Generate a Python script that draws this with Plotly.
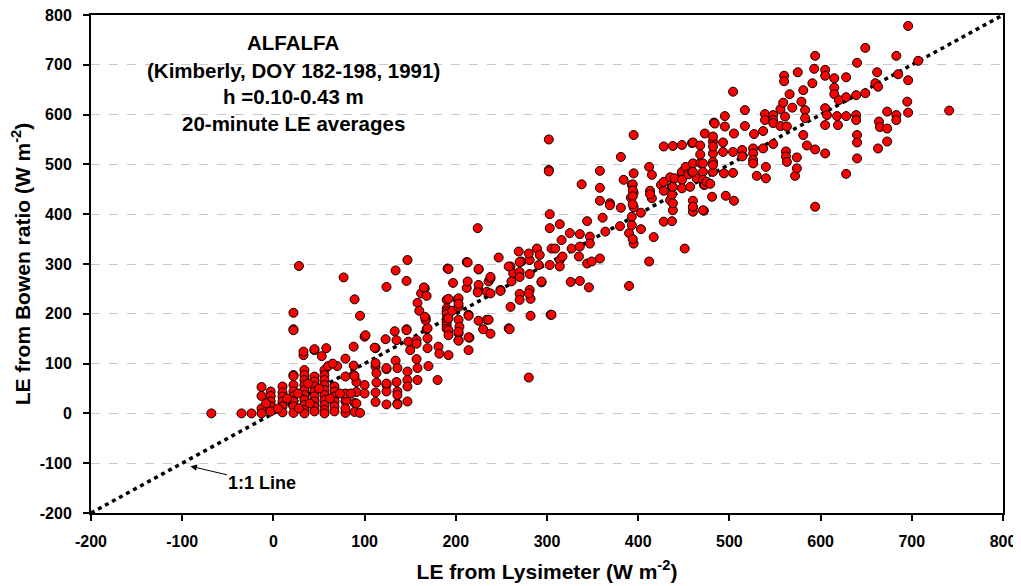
import plotly.graph_objects as go

# ---- data (W m-2) ----
# low-LE cluster (lysimeter < 100)
low_lys = [-68, -35, -24, -13, -13, -13, -13, -3, -3, -3, -3, -3,
           10, 10, 10, 10, 10, 10, 22, 22, 22, 22, 22, 22, 22, 22, 22, 22, 22, 28,
           34, 34, 34, 34, 34, 34, 34, 34, 34, 34, 33, 33,
           45, 45, 45, 45, 45, 45, 45, 45, 45, 45,
           56, 56, 56, 56, 56, 56, 56, 56, 56, 56, 53, 58,
           67, 67, 67, 67, 67, 67,
           79, 79, 79, 79, 77, 80, 79, 79,
           89, 89, 88, 91, 91, 88, 88, 89, 95, 89, 91, 95,
           15, 27, 40, 50, 62, 73, 38, 60, 70, 65, -8, 5, 28, 85]
low_bowen = [0, 0, 0, 53, 35, 10, 0, 44, 35, 24, 14, 4,
             54, 42, 34, 24, 14, 2, 77, 57, 44, 34, 24, 14, 1, 75, 202, 169, 167, 296,
             87, 77, 67, 57, 47, 37, 27, 17, 7, 0, 117, 124,
             74, 64, 54, 44, 34, 24, 14, 4, 127, 129,
             87, 77, 67, 57, 47, 37, 27, 17, 7, 0, 115, 131,
             54, 44, 34, 24, 14, 4,
             24, 1, 74, 110, 273, 26, 10, 40,
             3, 21, 77, 63, 43, 134, 96, 229, 1, 75, 20, 196,
             30, 40, 20, 50, 30, 40, 60, 95, 95, 100, 20, 10, 10, 40]

# mid range (lysimeter 100-300)
mid_lys = [100, 100, 100, 101, 112, 112, 112, 113, 113, 112, 112, 111,
           124, 124, 124, 124, 124, 124, 123, 124,
           136, 136, 135, 136, 136, 134, 136, 135, 133, 134,
           147, 147, 147, 147, 148, 150, 146, 146, 147, 146,
           157, 158, 158, 157, 158, 157,
           160, 162, 166, 165, 168, 167, 167, 168, 169, 169, 170, 169, 166,
           180, 181, 182,
           190, 190, 190, 190, 190, 190, 190, 190, 191, 192, 192, 192, 192, 192, 192, 197, 196,
           202, 203, 203, 204, 203, 203, 203, 203, 203, 203,
           212, 212, 213, 214, 215, 214, 214, 214, 213,
           224, 225, 225, 225, 225, 225, 224,
           230, 234, 234, 236, 236, 238, 238, 238, 238,
           247, 249, 249, 258, 260, 259, 260, 263, 261, 258,
           269, 270, 272, 270, 270, 270, 270, 280, 281, 281, 281, 282, 282, 280, 280,
           289, 291, 292, 294, 294]
mid_bowen = [57, 40, 154, 157, 94, 42, 23, 81, 62, 131, 101, 132,
             89, 57, 44, 18, 91, 60, 149, 254,
             44, 20, 63, 37, 18, 106, 91, 147, 165, 287,
             84, 67, 54, 24, 144, 127, 169, 266, 308, 167,
             109, 91, 67, 147, 222, 140,
             206, 241, 251, 253, 236, 191, 187, 169, 151, 131, 95, 171, 194,
             67, 134, 120,
             228, 211, 205, 200, 190, 183, 177, 170, 291, 290, 117, 230, 191, 167, 157, 262, 206,
             229, 214, 188, 174, 161, 147, 231, 220, 164, 146,
             304, 252, 265, 198, 152, 127, 196, 153, 303,
             372, 289, 248, 186, 258, 290, 243,
             169, 244, 188, 188, 265, 271, 274, 241, 160,
             313, 248, 246, 171, 214, 169, 295, 281, 265, 295,
             325, 240, 305, 284, 274, 228, 304, 72, 308, 280, 248, 230, 196, 241, 321,
             331, 298, 318, 263, 265]

# upper range (lysimeter 300-500)
up_lys = [302, 302, 302, 303, 303, 303, 304, 305, 305, 309,
          314, 314, 314, 316, 317, 325, 326, 327, 336, 336, 336, 335, 338,
          344, 344, 347, 347, 346, 349,
          358, 358, 358, 358, 361, 364, 369, 369,
          380, 381, 381, 384, 390, 390, 393, 392, 393, 393, 395, 395, 395, 395, 395, 394, 394, 394, 394, 394,
          403, 403, 412, 415, 413, 415, 413, 412, 417,
          425, 428, 428, 428, 428, 435, 435, 437, 437, 437, 438, 438, 438, 438, 440,
          448, 448, 448, 448, 448, 451, 452, 455, 460, 459, 464, 459, 460, 460, 460, 460, 460, 460, 457,
          468, 468, 468, 472, 472, 471, 473, 471, 471, 471, 473, 475, 479,
          481, 482, 482, 482, 482, 482, 482, 482, 483, 484,
          493, 493, 494, 495, 495, 496]
up_bowen = [550, 489, 486, 400, 372, 298, 198, 331, 198, 331,
            380, 308, 295, 348, 315, 362, 264, 331, 360, 335, 266, 315, 460,
            386, 301, 355, 341, 253, 305,
            487, 453, 427, 311, 393, 365, 422, 418,
            376, 515, 413, 469, 362, 256, 459, 433, 395, 378, 559, 482, 443, 414, 341, 350, 460, 448, 436, 420,
            403, 370, 495, 479, 447, 432, 440, 305, 354,
            459, 447, 385, 536, 465, 428, 474, 455, 439, 386, 537, 408, 455, 422, 472,
            482, 539, 485, 469, 452, 331, 495, 480, 502, 485, 472, 543, 427, 414, 405, 415, 544, 485, 455,
            538, 503, 520, 407, 459, 408, 562, 502, 485, 469, 459, 465, 461,
            435, 546, 522, 505, 485, 556, 536, 499, 584, 582,
            544, 525, 482, 597, 576, 437]

# high range (lysimeter > 500)
high_lys = [504, 504, 504, 505, 505, 514, 514, 517, 517,
            526, 526, 526, 526, 527, 530, 537, 537, 539, 539, 540, 540,
            548, 548, 548, 548, 556, 556, 559, 560, 560, 561, 562, 562, 563, 563, 566, 569,
            572, 574, 574, 575, 579, 581, 581, 583, 583, 585,
            591, 593, 594, 594, 594, 605, 605, 605, 605, 605, 607,
            615, 615, 615, 618, 619, 620, 628, 628, 628, 628,
            639, 639, 639, 640, 640, 640, 640, 649, 649,
            660, 662, 663, 663, 664, 665, 673, 673, 673, 683, 683, 683, 685,
            695, 696, 696, 696, 707, 741]
high_bowen = [646, 483, 525, 562, 427, 529, 516, 609, 577,
              532, 522, 509, 502, 561, 477, 532, 567, 601, 589, 495, 472,
              599, 589, 583, 541, 611, 577, 624, 678, 667, 596, 526, 516, 576, 505, 641, 614,
              477, 492, 514, 685, 626, 649, 559, 609, 593, 538,
              663, 692, 718, 530, 415, 690, 678, 613, 579, 522, 599,
              673, 654, 641, 597, 579, 629, 675, 635, 597, 481,
              639, 599, 589, 559, 544, 512, 704, 734, 643,
              663, 685, 656, 532, 586, 575, 606, 572, 546, 718, 599, 589, 681,
              626, 778, 669, 604, 708, 608]

one_to_one = [-200, 800]
x_ticks = [-200, -100, 0, 100, 200, 300, 400, 500, 600, 700, 800]
y_ticks = [-200, -100, 0, 100, 200, 300, 400, 500, 600, 700, 800]

lys = low_lys + mid_lys + up_lys + high_lys
bowen = low_bowen + mid_bowen + up_bowen + high_bowen

FONT = "Liberation Sans, Arial, sans-serif"

fig = go.Figure()
fig.add_trace(go.Scatter(
    x=one_to_one, y=one_to_one, mode="lines",
    line=dict(color="black", width=3.5, dash="4px,4px"),
    hoverinfo="skip", showlegend=False))
fig.add_trace(go.Scatter(
    x=lys, y=bowen, mode="markers",
    marker=dict(color="#FF0000", size=9, line=dict(color="#000000", width=1)),
    showlegend=False))

ann_lines = ["ALFALFA", "(Kimberly, DOY 182-198, 1991)", "h =0.10-0.43 m", "20-minute LE averages"]
ann_y = [744, 689, 636, 582]
for txt, yy in zip(ann_lines, ann_y):
    fig.add_annotation(x=22, y=yy, text="<b>%s</b>" % txt, showarrow=False,
                       font=dict(family=FONT, size=20.5, color="black"),
                       xanchor="center", yanchor="middle")

# 1:1 line label with arrow pointing to the line
fig.add_annotation(x=-91, y=-106, text="<b>1:1 Line</b>", showarrow=True,
                   ax=72, ay=17, arrowhead=2, arrowsize=1.3,
                   arrowwidth=1, arrowcolor="black", standoff=0,
                   font=dict(family=FONT, size=18, color="black"))

axis_common = dict(
    showline=True, linecolor="black", linewidth=2, mirror=True,
    ticks="outside", ticklen=6, tickwidth=1.5, tickcolor="black",
    tickfont=dict(family=FONT, size=16, color="black"),
    zeroline=False, automargin=False, ticklabeloverflow="allow",
)
fig.update_xaxes(range=[-200, 800], tickvals=x_ticks,
                 ticktext=["<b>%d</b>" % v for v in x_ticks],
                 showgrid=False, ticklabelstandoff=7,
                 title=dict(text="<b>LE from Lysimeter (W m<sup>-2</sup>)</b>",
                            font=dict(family=FONT, size=21, color="black"), standoff=15),
                 **axis_common)
fig.update_yaxes(range=[-200, 800], tickvals=y_ticks,
                 ticktext=["<b>%d</b>" % v for v in y_ticks],
                 showgrid=True, gridcolor="#C8C8C8", gridwidth=1, griddash="dash",
                 ticklabelstandoff=8,
                 title=dict(text="<b>LE from Bowen ratio (W m<sup>-2</sup>)</b>",
                            font=dict(family=FONT, size=21, color="black"), standoff=6),
                 **axis_common)

# the page body has an 8px default margin, so the figure is shifted by 8px
fig.update_layout(
    width=1013, height=578,
    margin=dict(l=83, r=18, t=7, b=73),
    plot_bgcolor="white", paper_bgcolor="white",
    font=dict(family=FONT, color="black"),
)

fig.write_html("out.html")
